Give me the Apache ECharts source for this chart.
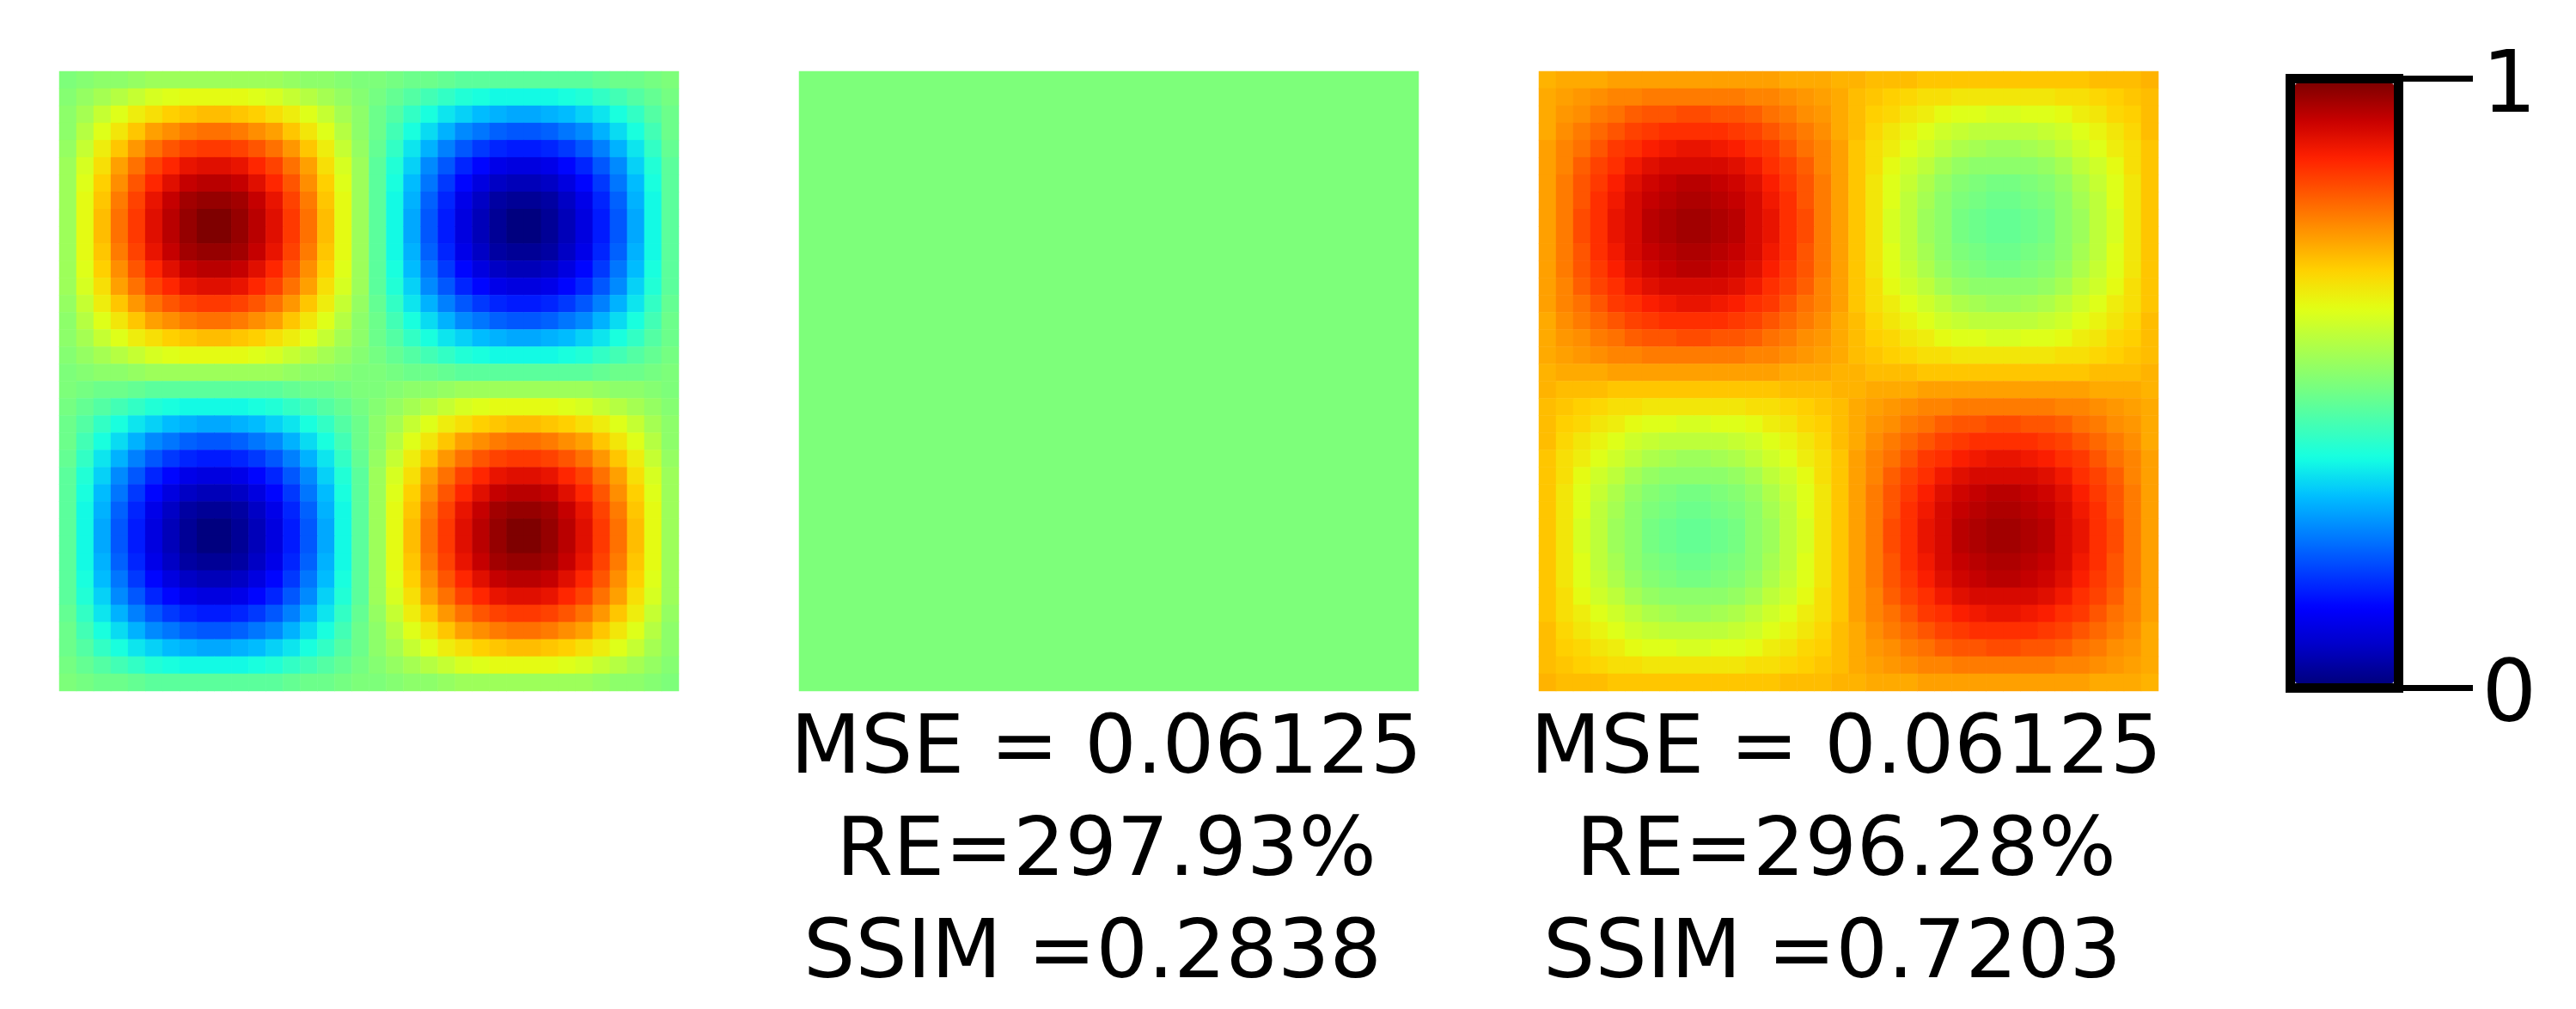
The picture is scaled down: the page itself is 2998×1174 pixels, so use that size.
<!DOCTYPE html>
<html>
<head>
<meta charset="utf-8">
<title>MSE comparison</title>
<script src="https://cdn.jsdelivr.net/npm/echarts@6/dist/echarts.min.js"></script>
<style>
html,body{margin:0;padding:0;background:#fff;}
#main{width:2998px;height:1174px;}
</style>
</head>
<body>
<div id="main"></div>
<script>
// values, in hundredths of the colour scale
var exactField = [
[50,51,52,52,53,54,54,54,54,54,54,54,54,53,52,52,51,50,50,49,48,48,47,46,46,46,46,46,46,46,46,47,48,48,49,50],
[51,53,55,57,59,61,62,63,63,63,63,62,61,59,57,55,53,51,49,47,45,43,41,39,38,37,37,37,37,38,39,41,43,45,47,49],
[52,55,59,62,65,67,69,70,71,71,70,69,67,65,62,59,55,52,48,45,41,38,35,33,31,30,29,29,30,31,33,35,38,41,45,48],
[52,57,62,66,70,74,76,78,79,79,78,76,74,70,66,62,57,52,48,43,38,34,30,26,24,22,21,21,22,24,26,30,34,38,43,48],
[53,59,65,70,75,79,82,84,85,85,84,82,79,75,70,65,59,53,47,41,35,30,25,21,18,16,15,15,16,18,21,25,30,35,41,47],
[54,61,67,74,79,84,87,90,91,91,90,87,84,79,74,67,61,54,46,39,33,26,21,16,13,10,9,9,10,13,16,21,26,33,39,46],
[54,62,69,76,82,87,91,94,95,95,94,91,87,82,76,69,62,54,46,38,31,24,18,13,9,6,5,5,6,9,13,18,24,31,38,46],
[54,63,70,78,84,90,94,97,98,98,97,94,90,84,78,70,63,54,46,37,30,22,16,10,6,3,2,2,3,6,10,16,22,30,37,46],
[54,63,71,79,85,91,95,98,100,100,98,95,91,85,79,71,63,54,46,37,29,21,15,9,5,2,0,0,2,5,9,15,21,29,37,46],
[54,63,71,79,85,91,95,98,100,100,98,95,91,85,79,71,63,54,46,37,29,21,15,9,5,2,0,0,2,5,9,15,21,29,37,46],
[54,63,70,78,84,90,94,97,98,98,97,94,90,84,78,70,63,54,46,37,30,22,16,10,6,3,2,2,3,6,10,16,22,30,37,46],
[54,62,69,76,82,87,91,94,95,95,94,91,87,82,76,69,62,54,46,38,31,24,18,13,9,6,5,5,6,9,13,18,24,31,38,46],
[54,61,67,74,79,84,87,90,91,91,90,87,84,79,74,67,61,54,46,39,33,26,21,16,13,10,9,9,10,13,16,21,26,33,39,46],
[53,59,65,70,75,79,82,84,85,85,84,82,79,75,70,65,59,53,47,41,35,30,25,21,18,16,15,15,16,18,21,25,30,35,41,47],
[52,57,62,66,70,74,76,78,79,79,78,76,74,70,66,62,57,52,48,43,38,34,30,26,24,22,21,21,22,24,26,30,34,38,43,48],
[52,55,59,62,65,67,69,70,71,71,70,69,67,65,62,59,55,52,48,45,41,38,35,33,31,30,29,29,30,31,33,35,38,41,45,48],
[51,53,55,57,59,61,62,63,63,63,63,62,61,59,57,55,53,51,49,47,45,43,41,39,38,37,37,37,37,38,39,41,43,45,47,49],
[50,51,52,52,53,54,54,54,54,54,54,54,54,53,52,52,51,50,50,49,48,48,47,46,46,46,46,46,46,46,46,47,48,48,49,50],
[50,49,48,48,47,46,46,46,46,46,46,46,46,47,48,48,49,50,50,51,52,52,53,54,54,54,54,54,54,54,54,53,52,52,51,50],
[49,47,45,43,41,39,38,37,37,37,37,38,39,41,43,45,47,49,51,53,55,57,59,61,62,63,63,63,63,62,61,59,57,55,53,51],
[48,45,41,38,35,33,31,30,29,29,30,31,33,35,38,41,45,48,52,55,59,62,65,67,69,70,71,71,70,69,67,65,62,59,55,52],
[48,43,38,34,30,26,24,22,21,21,22,24,26,30,34,38,43,48,52,57,62,66,70,74,76,78,79,79,78,76,74,70,66,62,57,52],
[47,41,35,30,25,21,18,16,15,15,16,18,21,25,30,35,41,47,53,59,65,70,75,79,82,84,85,85,84,82,79,75,70,65,59,53],
[46,39,33,26,21,16,13,10,9,9,10,13,16,21,26,33,39,46,54,61,67,74,79,84,87,90,91,91,90,87,84,79,74,67,61,54],
[46,38,31,24,18,13,9,6,5,5,6,9,13,18,24,31,38,46,54,62,69,76,82,87,91,94,95,95,94,91,87,82,76,69,62,54],
[46,37,30,22,16,10,6,3,2,2,3,6,10,16,22,30,37,46,54,63,70,78,84,90,94,97,98,98,97,94,90,84,78,70,63,54],
[46,37,29,21,15,9,5,2,0,0,2,5,9,15,21,29,37,46,54,63,71,79,85,91,95,98,100,100,98,95,91,85,79,71,63,54],
[46,37,29,21,15,9,5,2,0,0,2,5,9,15,21,29,37,46,54,63,71,79,85,91,95,98,100,100,98,95,91,85,79,71,63,54],
[46,37,30,22,16,10,6,3,2,2,3,6,10,16,22,30,37,46,54,63,70,78,84,90,94,97,98,98,97,94,90,84,78,70,63,54],
[46,38,31,24,18,13,9,6,5,5,6,9,13,18,24,31,38,46,54,62,69,76,82,87,91,94,95,95,94,91,87,82,76,69,62,54],
[46,39,33,26,21,16,13,10,9,9,10,13,16,21,26,33,39,46,54,61,67,74,79,84,87,90,91,91,90,87,84,79,74,67,61,54],
[47,41,35,30,25,21,18,16,15,15,16,18,21,25,30,35,41,47,53,59,65,70,75,79,82,84,85,85,84,82,79,75,70,65,59,53],
[48,43,38,34,30,26,24,22,21,21,22,24,26,30,34,38,43,48,52,57,62,66,70,74,76,78,79,79,78,76,74,70,66,62,57,52],
[48,45,41,38,35,33,31,30,29,29,30,31,33,35,38,41,45,48,52,55,59,62,65,67,69,70,71,71,70,69,67,65,62,59,55,52],
[49,47,45,43,41,39,38,37,37,37,37,38,39,41,43,45,47,49,51,53,55,57,59,61,62,63,63,63,63,62,61,59,57,55,53,51],
[50,49,48,48,47,46,46,46,46,46,46,46,46,47,48,48,49,50,50,51,52,52,53,54,54,54,54,54,54,54,54,53,52,52,51,50]
];
// the middle panel is one flat colour
var flatField = [[50]];
var shiftedField = [
[72,73,73,73,74,74,74,74,74,74,74,74,74,74,73,73,73,72,72,71,71,71,70,70,70,70,70,70,70,70,70,70,71,71,71,72],
[73,74,75,76,77,77,78,78,78,78,78,78,77,77,76,75,74,73,71,70,69,68,67,67,66,66,66,66,66,66,67,67,68,69,70,71],
[73,75,76,78,79,81,82,82,83,83,82,82,81,79,78,76,75,73,71,69,68,66,65,63,62,62,61,61,62,62,63,65,66,68,69,71],
[73,76,78,80,82,84,85,86,86,86,86,85,84,82,80,78,76,73,71,68,66,64,62,60,59,58,58,58,58,59,60,62,64,66,68,71],
[74,77,79,82,85,86,88,89,90,90,89,88,86,85,82,79,77,74,70,67,65,62,60,58,56,55,54,54,55,56,58,60,62,65,67,70],
[74,77,81,84,86,89,91,92,92,92,92,91,89,86,84,81,77,74,70,67,63,60,58,55,53,52,52,52,52,53,55,58,60,63,67,70],
[74,78,82,85,88,91,93,94,95,95,94,93,91,88,85,82,78,74,70,66,62,59,56,53,51,50,49,49,50,51,53,56,59,62,66,70],
[74,78,82,86,89,92,94,95,96,96,95,94,92,89,86,82,78,74,70,66,62,58,55,52,50,49,48,48,49,50,52,55,58,62,66,70],
[74,78,83,86,90,92,95,96,97,97,96,95,92,90,86,83,78,74,70,66,61,58,54,52,49,48,47,47,48,49,52,54,58,61,66,70],
[74,78,83,86,90,92,95,96,97,97,96,95,92,90,86,83,78,74,70,66,61,58,54,52,49,48,47,47,48,49,52,54,58,61,66,70],
[74,78,82,86,89,92,94,95,96,96,95,94,92,89,86,82,78,74,70,66,62,58,55,52,50,49,48,48,49,50,52,55,58,62,66,70],
[74,78,82,85,88,91,93,94,95,95,94,93,91,88,85,82,78,74,70,66,62,59,56,53,51,50,49,49,50,51,53,56,59,62,66,70],
[74,77,81,84,86,89,91,92,92,92,92,91,89,86,84,81,77,74,70,67,63,60,58,55,53,52,52,52,52,53,55,58,60,63,67,70],
[74,77,79,82,85,86,88,89,90,90,89,88,86,85,82,79,77,74,70,67,65,62,60,58,56,55,54,54,55,56,58,60,62,65,67,70],
[73,76,78,80,82,84,85,86,86,86,86,85,84,82,80,78,76,73,71,68,66,64,62,60,59,58,58,58,58,59,60,62,64,66,68,71],
[73,75,76,78,79,81,82,82,83,83,82,82,81,79,78,76,75,73,71,69,68,66,65,63,62,62,61,61,62,62,63,65,66,68,69,71],
[73,74,75,76,77,77,78,78,78,78,78,78,77,77,76,75,74,73,71,70,69,68,67,67,66,66,66,66,66,66,67,67,68,69,70,71],
[72,73,73,73,74,74,74,74,74,74,74,74,74,74,73,73,73,72,72,71,71,71,70,70,70,70,70,70,70,70,70,70,71,71,71,72],
[72,71,71,71,70,70,70,70,70,70,70,70,70,70,71,71,71,72,72,73,73,73,74,74,74,74,74,74,74,74,74,74,73,73,73,72],
[71,70,69,68,67,67,66,66,66,66,66,66,67,67,68,69,70,71,73,74,75,76,77,77,78,78,78,78,78,78,77,77,76,75,74,73],
[71,69,68,66,65,63,62,62,61,61,62,62,63,65,66,68,69,71,73,75,76,78,79,81,82,82,83,83,82,82,81,79,78,76,75,73],
[71,68,66,64,62,60,59,58,58,58,58,59,60,62,64,66,68,71,73,76,78,80,82,84,85,86,86,86,86,85,84,82,80,78,76,73],
[70,67,65,62,60,58,56,55,54,54,55,56,58,60,62,65,67,70,74,77,79,82,85,86,88,89,90,90,89,88,86,85,82,79,77,74],
[70,67,63,60,58,55,53,52,52,52,52,53,55,58,60,63,67,70,74,77,81,84,86,89,91,92,92,92,92,91,89,86,84,81,77,74],
[70,66,62,59,56,53,51,50,49,49,50,51,53,56,59,62,66,70,74,78,82,85,88,91,93,94,95,95,94,93,91,88,85,82,78,74],
[70,66,62,58,55,52,50,49,48,48,49,50,52,55,58,62,66,70,74,78,82,86,89,92,94,95,96,96,95,94,92,89,86,82,78,74],
[70,66,61,58,54,52,49,48,47,47,48,49,52,54,58,61,66,70,74,78,83,86,90,92,95,96,97,97,96,95,92,90,86,83,78,74],
[70,66,61,58,54,52,49,48,47,47,48,49,52,54,58,61,66,70,74,78,83,86,90,92,95,96,97,97,96,95,92,90,86,83,78,74],
[70,66,62,58,55,52,50,49,48,48,49,50,52,55,58,62,66,70,74,78,82,86,89,92,94,95,96,96,95,94,92,89,86,82,78,74],
[70,66,62,59,56,53,51,50,49,49,50,51,53,56,59,62,66,70,74,78,82,85,88,91,93,94,95,95,94,93,91,88,85,82,78,74],
[70,67,63,60,58,55,53,52,52,52,52,53,55,58,60,63,67,70,74,77,81,84,86,89,91,92,92,92,92,91,89,86,84,81,77,74],
[70,67,65,62,60,58,56,55,54,54,55,56,58,60,62,65,67,70,74,77,79,82,85,86,88,89,90,90,89,88,86,85,82,79,77,74],
[71,68,66,64,62,60,59,58,58,58,58,59,60,62,64,66,68,71,73,76,78,80,82,84,85,86,86,86,86,85,84,82,80,78,76,73],
[71,69,68,66,65,63,62,62,61,61,62,62,63,65,66,68,69,71,73,75,76,78,79,81,82,82,83,83,82,82,81,79,78,76,75,73],
[71,70,69,68,67,67,66,66,66,66,66,66,67,67,68,69,70,71,73,74,75,76,77,77,78,78,78,78,78,78,77,77,76,75,74,73],
[72,71,71,71,70,70,70,70,70,70,70,70,70,70,71,71,71,72,72,73,73,73,74,74,74,74,74,74,74,74,74,74,73,73,73,72]
];

var fields = [exactField, flatField, shiftedField];
var captions = [
	null,
	['MSE = 0.06125', 'RE=297.93%', 'SSIM =0.2838'],
	['MSE = 0.06125', 'RE=296.28%', 'SSIM =0.7203']
];
var scaleTicks = [0, 1];
var jetColors = ['#00007f','#0000c8','#0000ff','#0040ff','#0080ff','#00bfff','#15ffe2','#48ffaf','#7dff7a',
	'#afff48','#e2ff15','#ffd200','#ff9700','#ff5c00','#ff2100','#c80000','#7f0000'];

var panelLeft = [69, 930, 1791];
var panelTop = 83;
var panelSize = 721;
var font = 'DejaVu Sans';

function cells(field){
	var out = [];
	for(var r = 0; r < field.length; r++){
		for(var c = 0; c < field[r].length; c++){
			out.push([c, r, field[r][c]]);
		}
	}
	return out;
}
function indexes(n){
	var out = [];
	for(var i = 0; i < n; i++) out.push(String(i));
	return out;
}

var grids = [], xAxes = [], yAxes = [], series = [], texts = [];
fields.forEach(function(field, i){
	grids.push({left: panelLeft[i], top: panelTop, width: panelSize, height: panelSize});
	xAxes.push({type: 'category', gridIndex: i, show: false, data: indexes(field[0].length)});
	yAxes.push({type: 'category', gridIndex: i, show: false, inverse: true, data: indexes(field.length)});
	series.push({
		type: 'heatmap',
		xAxisIndex: i,
		yAxisIndex: i,
		data: cells(field),
		progressive: 0,
		animation: false,
		itemStyle: {borderWidth: 0}
	});
	if(captions[i]){
		var mid = panelLeft[i] + panelSize / 2 - 3;
		// the SSIM line sits left of centre in the original
		var lineX = [mid, mid, mid - 16];
		var lineY = [874, 993, 1112];
		captions[i].forEach(function(line, k){
			texts.push({
				type: 'text',
				x: lineX[k],
				y: lineY[k],
				silent: true,
				style: {text: line, fill: '#000', fontFamily: font, fontSize: 95, textAlign: 'center', textVerticalAlign: 'middle'}
			});
		});
	}
});

// colour bar frame and its 0 / 1 ticks
grids.push({left: 2665.5, top: 91.5, width: 126, height: 709, show: true, borderColor: '#000', borderWidth: 11, backgroundColor: 'transparent'});
xAxes.push({type: 'category', gridIndex: 3, show: false, data: ['0']});
yAxes.push({
	type: 'value',
	gridIndex: 3,
	position: 'right',
	min: scaleTicks[0],
	max: scaleTicks[1],
	interval: 1,
	splitLine: {show: false},
	axisLine: {show: false},
	axisTick: {show: true, length: 86.5, lineStyle: {color: '#000', width: 7}},
	// top aligned with a short line box: centres the digits on the tick
	axisLabel: {show: true, margin: 97, verticalAlign: 'top', lineHeight: 26, color: '#000', fontFamily: font, fontSize: 100}
});

var option = {
	backgroundColor: '#fff',
	animation: false,
	grid: grids,
	xAxis: xAxes,
	yAxis: yAxes,
	visualMap: {
		type: 'continuous',
		show: true,
		min: 0,
		max: 100,
		seriesIndex: [0, 1, 2],
		calculable: false,
		hoverLink: false,
		left: 2671,
		top: 97,
		padding: 0,
		itemWidth: 115,
		itemHeight: 698,
		text: null,
		inRange: {color: jetColors}
	},
	series: series,
	graphic: texts
};

var myChart = echarts.init(document.getElementById('main'), null, {renderer: 'canvas'});
myChart.setOption(option);
</script>
</body>
</html>
